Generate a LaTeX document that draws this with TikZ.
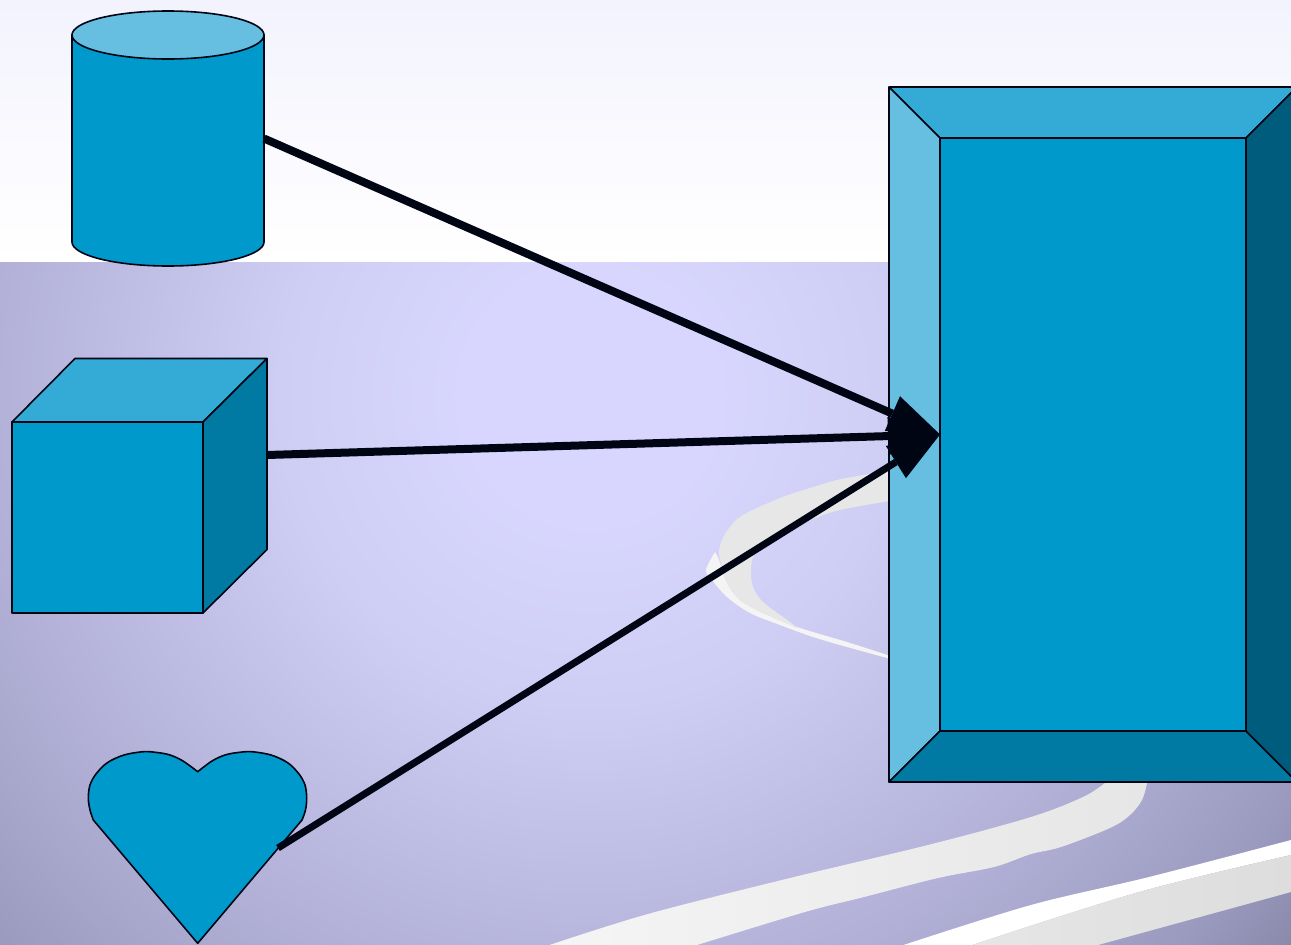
\documentclass[tikz,border=0pt]{standalone}
\usetikzlibrary{arrows.meta}
\definecolor{bga}{HTML}{D8D6FE}
\definecolor{bgb}{HTML}{CECDF3}
\definecolor{bgc}{HTML}{B2B0D6}
\definecolor{bgd}{HTML}{9A9ABF}
\definecolor{bge}{HTML}{8A8AAB}
\definecolor{lnk}{HTML}{000514}
\definecolor{mainb}{HTML}{0099CC}
\definecolor{lightb}{HTML}{66BEE0}
\definecolor{midb}{HTML}{33ABD6}
\definecolor{darkb}{HTML}{007AA3}
\definecolor{deepb}{HTML}{005C7D}
\definecolor{topb}{HTML}{F3F3FE}
\definecolor{ribA}{HTML}{F5F5F5}
\definecolor{ribB}{HTML}{E6E6E6}
\definecolor{ribC}{HTML}{DDDDDD}
\definecolor{ribD}{HTML}{F4F4F4}
\definecolor{ribE}{HTML}{E7E7E7}
\pgfdeclareradialshading{bgrad}{\pgfpoint{0bp}{0bp}}{color(0bp)=(bga); color(3.5bp)=(bga); color(8.6bp)=(bgb); color(16.8bp)=(bgc); color(22.4bp)=(bgd); color(24.7bp)=(bge); color(50bp)=(bge)}
\tikzset{
  edge/.style={draw=lnk,line width=1.6pt,line join=round},
  shapebox/.style={rectangle,inner sep=0pt,outer sep=0pt},
  conn/.style={draw=lnk,line width=8pt,-{Triangle[length=52pt,width=38pt,line width=0pt]}},
  softcurve/.style={smooth,tension=0.55}
}
\begin{document}
\begin{tikzpicture}[x=1pt,y=-1pt]
\useasboundingbox (0,0) rectangle (1291,945);
\begin{scope}
\clip (0,261) rectangle (1291,945);
\shade[shading=bgrad] (590,395) circle[radius=900];
\end{scope}
\shade[top color=topb,bottom color=white] (0,0) rectangle (1291,261);
% ribbons
\fill[ribD] plot[softcurve] coordinates {(715,552) (706,570) (712,580) (727,597) (750,613) (780,625) (813,637) (847,647) (889,658.5)} -- plot[softcurve] coordinates {(889,655.5) (847,642) (797,627) (763,613) (740,600) (727,583) (719,560) (715,552)} -- cycle;
\fill[ribE] plot[softcurve] coordinates {(889,470) (863,475) (837,480) (810,488) (780,498) (743,515) (730,527) (722,540) (719,553) (722,567) (727,583) (740,600) (763,613) (797,628)} -- plot[softcurve] coordinates {(797,628) (790,622) (763,602) (753,587) (751,572) (753,557) (763,543) (780,533) (810,520) (840,510) (889,501)} -- cycle;
\shade[left color=ribA,right color=ribB] plot[softcurve] coordinates {(549.5,945) (648,914) (790,878) (928,845) (1031,817) (1083,797) (1105,783)} -- plot[softcurve] coordinates {(1147,783) (1142,800) (1130,815) (1110,828) (1061,847) (1031,854) (994,867) (938,878) (864,897) (805,912) (697,945)} -- cycle;
\fill[white] plot[softcurve] coordinates {(903.5,945) (1031,905) (1149,877) (1291,840)} -- plot[softcurve] coordinates {(1291,855) (1139,892) (972,945)} -- cycle;
\shade[left color=ribB,right color=ribC] plot[softcurve] coordinates {(972,945) (1139,892) (1291,855)} -- plot[softcurve] coordinates {(1291,892) (1098,945)} -- cycle;
% cylinder
\node[shapebox,minimum width=192pt,minimum height=255pt] (cyl) at (168,138.5) {};
\path[edge,fill=mainb] (72,35) -- (72,242) arc[start angle=180,end angle=0,x radius=96,y radius=24] -- (264,35) -- cycle;
\path[edge,fill=lightb] (168,35) ellipse[x radius=96,y radius=24];
% cube
\path[edge,fill=midb] (12,422) -- (75,358.5) -- (267,358.5) -- (203,422) -- cycle;
\path[edge,fill=darkb] (203,422) -- (267,358.5) -- (267,549.5) -- (203,613) -- cycle;
\node[shapebox,edge,fill=mainb,minimum width=191pt,minimum height=191pt] (cube) at (107.5,517.5) {};
\coordinate (cubeout) at (267,455);
% heart
\path[edge,fill=mainb] plot[softcurve] coordinates {(197.7,771.7) (183,761) (170,755) (157,752.5) (143.3,751.7) (124,755) (107.3,762.7) (96,774) (90,785) (88.3,798) (90,810) (93.3,820)} -- (197.7,943.3) -- plot[softcurve] coordinates {(302,820) (305.5,810) (306.7,798) (305,785) (299,774) (287.7,762.7) (271,755) (251.7,751.7) (238,752.5) (225,755) (212,761) (197.7,771.7)} -- cycle;
\coordinate (heartout) at (278,848);
% bevel
\path[edge,fill=midb] (889,87) -- (1297,87) -- (1246,138) -- (940,138) -- cycle;
\path[edge,fill=lightb] (889,87) -- (940,138) -- (940,731) -- (889,782) -- cycle;
\path[edge,fill=darkb] (889,782) -- (940,731) -- (1246,731) -- (1297,782) -- cycle;
\path[edge,fill=deepb] (1297,87) -- (1246,138) -- (1246,731) -- (1297,782) -- cycle;
\node[shapebox,edge,fill=mainb,minimum width=306pt,minimum height=593pt] (panel) at (1093,434.5) {};
% connectors
\draw[conn] (cyl.east) -- (panel.west);
\draw[conn] (cubeout) -- (panel.west);
\draw[conn,line width=7pt] (heartout) -- (panel.west);
\end{tikzpicture}
\end{document}
